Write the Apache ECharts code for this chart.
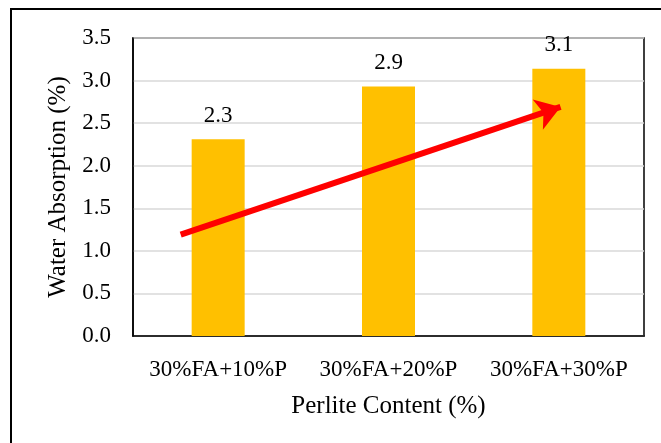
<!DOCTYPE html>
<html>
<head>
<meta charset="utf-8">
<script src="https://cdn.jsdelivr.net/npm/echarts@6/dist/echarts.min.js"></script>
<style>
  html, body { margin: 0; padding: 0; background: #fff; }
  #chart { width: 661px; height: 443px; }
</style>
</head>
<body>
<div id="chart"></div>
<script>
const categories = ["30%FA+10%P", "30%FA+20%P", "30%FA+30%P"];
const absorption = [2.31, 2.93, 3.14];
// trend arrow, in category-index / value units
const arrowFrom = [-0.22, 1.19];
const arrowTo = [2.01, 2.69];

const serif = "Liberation Serif";

const chart = echarts.init(document.getElementById("chart"));

chart.setOption({
  backgroundColor: "#fff",
  animation: false,
  textStyle: { fontFamily: serif, color: "#000" },
  graphic: [
    {
      type: "rect",
      shape: { x: 11, y: 9, width: 800, height: 600 },
      style: { fill: "none", stroke: "#000", lineWidth: 2 },
      silent: true
    }
  ],
  grid: {
    left: 133,
    top: 38,
    right: 17,
    bottom: 107,
    show: true,
    borderColor: "#000",
    borderWidth: 1.5,
    backgroundColor: "transparent"
  },
  xAxis: [
    {
      type: "category",
      data: categories,
      name: "Perlite Content (%)",
      nameLocation: "middle",
      nameGap: 58,
      nameTextStyle: { fontFamily: serif, fontSize: 25, color: "#000" },
      axisLine: { lineStyle: { color: "#000", width: 1.5 } },
      axisTick: { show: false },
      axisLabel: {
        fontFamily: serif,
        fontSize: 23,
        color: "#000",
        margin: 22,
        interval: 0,
        hideOverlap: false
      }
    },
    {
      type: "value",
      min: -0.5,
      max: 2.5,
      show: false
    }
  ],
  yAxis: {
    type: "value",
    min: 0,
    max: 3.5,
    interval: 0.5,
    name: "Water Absorption (%)",
    nameLocation: "middle",
    nameGap: 61,
    nameTextStyle: { fontFamily: serif, fontSize: 25, color: "#000" },
    axisLine: { show: true, onZero: false, lineStyle: { color: "#000", width: 1.5 } },
    axisTick: { show: false },
    axisLabel: {
      fontFamily: serif,
      fontSize: 23,
      color: "#000",
      margin: 22,
      formatter: (v) => v.toFixed(1)
    },
    splitLine: { lineStyle: { color: "#d9d9d9", width: 1.5 } }
  },
  series: [
    {
      type: "bar",
      data: absorption,
      barWidth: 53,
      itemStyle: { color: "#FFC000" },
      label: {
        show: true,
        position: "top",
        distance: 12,
        fontFamily: serif,
        fontSize: 23,
        color: "#000",
        formatter: (p) => p.value.toFixed(1)
      }
    },
    {
      type: "lines",
      coordinateSystem: "cartesian2d",
      xAxisIndex: 1,
      yAxisIndex: 0,
      symbol: ["none", "arrow"],
      symbolSize: 24,
      lineStyle: { color: "#ff0000", width: 6, opacity: 1, curveness: 0 },
      data: [{ coords: [arrowFrom, arrowTo] }],
      z: 5
    }
  ]
});
</script>
</body>
</html>
